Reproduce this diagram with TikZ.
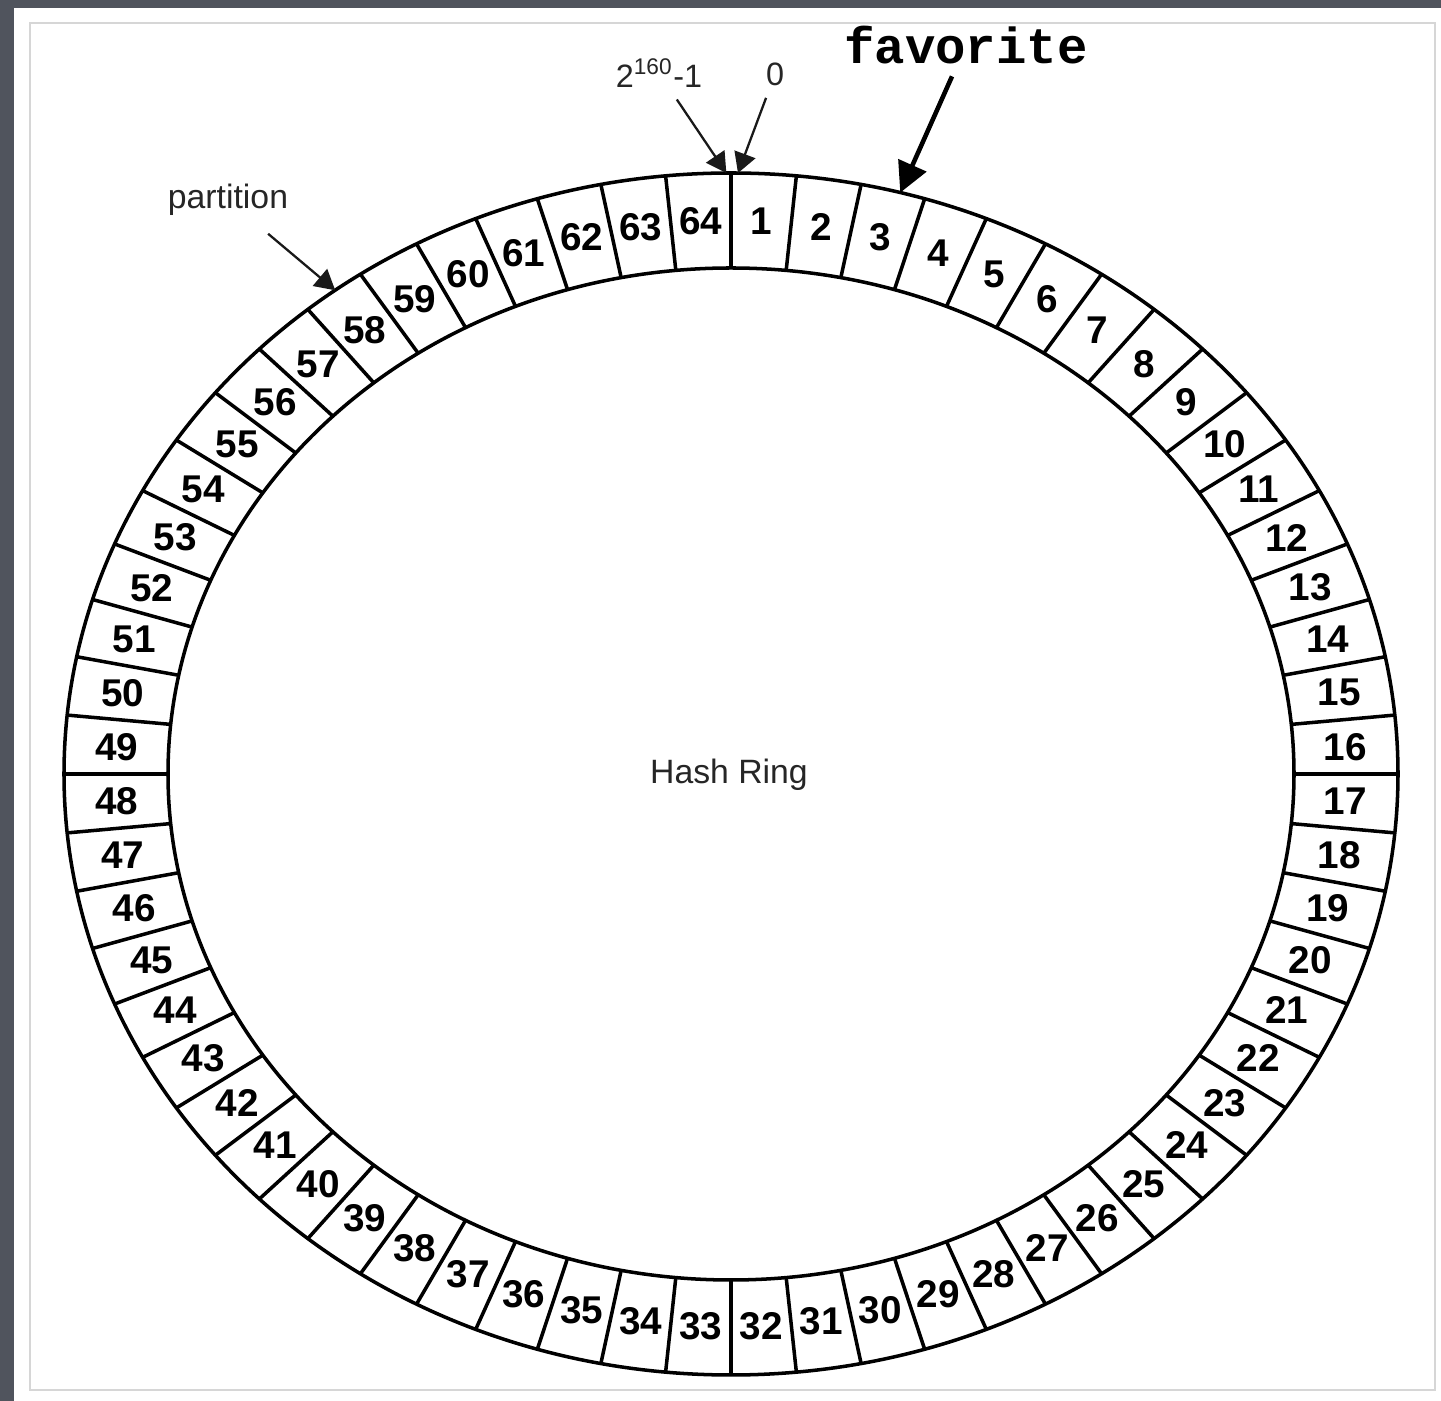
\documentclass[tikz,border=0pt]{standalone}
\usepackage{fontspec}
\setmainfont{Liberation Sans}
\newfontfamily\favfont{Liberation Mono}
\usetikzlibrary{arrows.meta}

\definecolor{framegray}{RGB}{80,84,93}
\definecolor{pagegray}{RGB}{214,214,214}

\begin{document}
\begin{tikzpicture}[
  x=0.01cm, y=-0.01cm,
  ring/.style={line width=1pt},
  seglbl/.style={font=\fontsize{11}{13}\selectfont\bfseries, inner sep=0pt},
  tag/.style={font=\fontsize{9.6}{11}\selectfont, text=black!85, inner sep=2pt},
  ptr/.style={-{Triangle[length=0.2cm,width=0.22cm]}, line width=0.65pt, draw=black!90},
  bigptr/.style={-{Triangle[length=0.3cm,width=0.3cm]}, line width=1.3pt}
]
\useasboundingbox (0,0) rectangle (1441,1401);
% screenshot frame
\fill[white] (0,0) rectangle (1441,1401);
\fill[framegray] (0,0) rectangle (1441,8);
\fill[framegray] (0,0) rectangle (14,1401);
\draw[pagegray, line width=0.6pt] (30,23) rectangle (1435,1390);

% the ring, 64 partitions clockwise from the top
\begin{scope}[shift={(731,774)}, yscale=-1]
\draw[ring] (0,0) ellipse [x radius=667, y radius=601];
\draw[ring] (0,0) ellipse [x radius=563, y radius=506];
\foreach \j in {0,...,63}
  \draw[ring] ({90-\j*5.625}:563 and 506) -- ({90-\j*5.625}:667 and 601);
\foreach \k in {1,...,64}
  \node[seglbl] (seg\k) at ({90-(\k-0.5)*5.625}:615 and 553) {\k};
\node[tag] (hashring) at (-2,-1) {Hash Ring};
\coordinate (hipt) at (90.4:667 and 601);
\coordinate (zeropt) at (89.4:667 and 601);
\coordinate (favpt) at (75.3:667 and 601);
\coordinate (partpt) at (126.4:667 and 601);
\end{scope}

% labels
\node[tag, font=\fontsize{9.2}{11}\selectfont] (hilbl) at (659,73) {2\textsuperscript{160}-1};
\node[tag, font=\fontsize{9.2}{11}\selectfont] (zerolbl) at (775,74) {0};
\node[font=\favfont\fontsize{14.4}{16}\selectfont\bfseries] (favlbl) at (966,45) {favorite};
\node[tag] (partlbl) at (228,200) {partition};

\draw[ptr, shorten <=0.05cm] (hilbl) -- (hipt);
\draw[ptr, shorten <=0.05cm] (zerolbl) -- (zeropt);
\draw[bigptr] (favlbl) -- (favpt);
\draw[ptr, shorten <=0.16cm] (partlbl) -- (partpt);
\end{tikzpicture}
\end{document}
